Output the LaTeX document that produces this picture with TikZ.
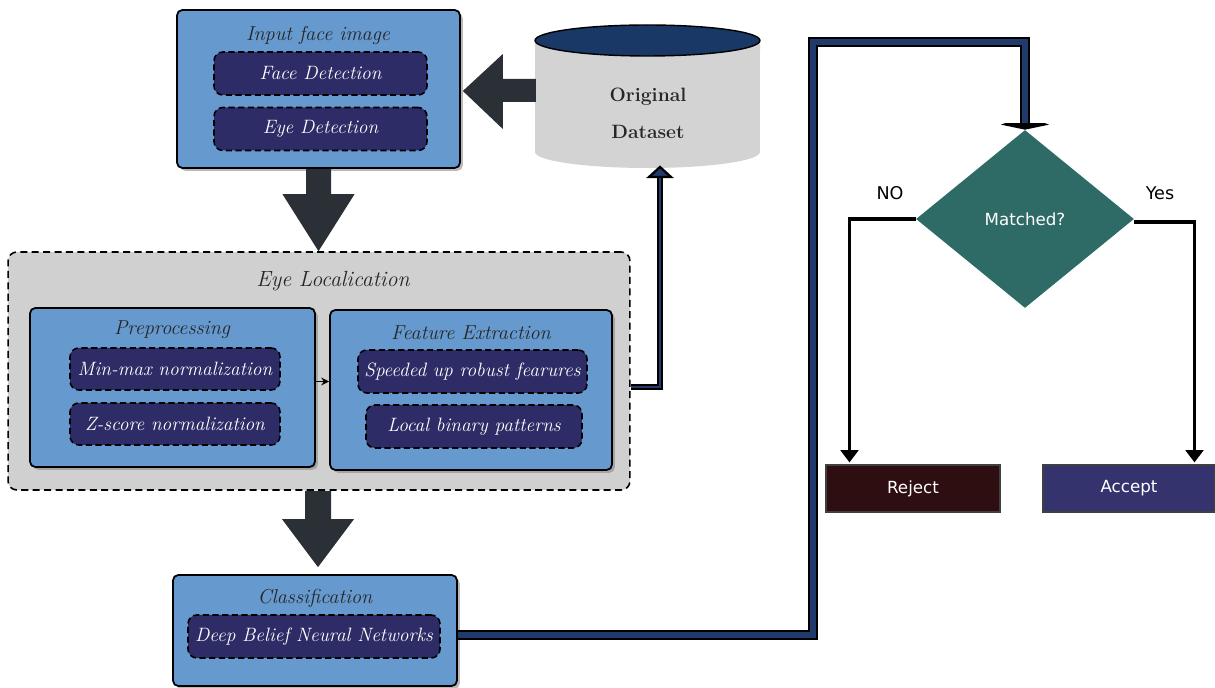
\documentclass[tikz,border=0pt]{standalone}
\usepackage{fontspec}
\newfontfamily\sansf{DejaVu Sans}
\usetikzlibrary{shapes.geometric,arrows.meta,calc,shadows}
\definecolor{lblue}{RGB}{102,153,206}
\definecolor{navybox}{RGB}{46,44,102}
\definecolor{elgray}{RGB}{208,208,208}
\definecolor{cylgray}{RGB}{211,211,211}
\definecolor{cyltop}{RGB}{26,56,102}
\definecolor{fatc}{RGB}{43,47,54}
\definecolor{connblue}{RGB}{31,58,107}
\definecolor{teal}{RGB}{47,107,102}
\definecolor{rejc}{RGB}{46,14,16}
\definecolor{accc}{RGB}{52,51,110}
\begin{document}
\begin{tikzpicture}[x=0.02cm,y=0.02cm,
  outerbox/.style={draw=black, line width=1pt, fill=lblue, rounded corners=3pt,
    drop shadow={shadow xshift=1.6pt, shadow yshift=-1.6pt, opacity=0.55}, inner sep=0pt},
  innerbox/.style={draw=black, dash pattern=on 3.5pt off 2pt, line width=0.9pt, fill=navybox, rounded corners=5pt,
    text=white, font=\fontsize{11}{13}\selectfont\itshape, inner sep=0pt, minimum height=0.86cm},
  ttl/.style={font=\fontsize{11.5}{13}\selectfont\itshape, text=black!85, inner sep=0pt},
  fat/.style={fill=fatc},
  decision/.style={diamond, fill=teal, inner sep=0pt, minimum width=4.36cm, minimum height=3.56cm,
    text=white, font=\sansf\fontsize{9.5}{11}\selectfont},
  result/.style={draw=black!75, line width=0.6pt, text=white, inner sep=0pt,
    minimum height=0.94cm, font=\sansf\fontsize{9.5}{11}\selectfont},
  lbl/.style={font=\sansf\fontsize{10}{12}\selectfont, inner sep=0pt},
  blueconn/.style={draw=black, line width=1.1pt, double=connblue, double distance=3pt, line join=miter},
  thinconn/.style={draw=black, line width=1.3pt, double=connblue, double distance=0.9pt, line join=miter},
  branch/.style={draw=black, line width=2pt, -{Triangle[width=10pt,length=7pt]}}
]
\useasboundingbox (0,0) rectangle (1215,-688);

% Input face image
\node[outerbox, minimum width=5.66cm, minimum height=3.16cm] (in) at (318.5,-89) {};
\node[ttl] (inT) at (318,-35) {Input face image};
\node[innerbox, minimum width=4.26cm] (fd) at (320.5,-73.5) {Face Detection};
\node[innerbox, minimum width=4.26cm] (ed) at (320.5,-129) {Eye Detection};

% Cylinder (Original Dataset)
\fill[cylgray] (535,-40) -- (535,-152)
  arc[start angle=180, end angle=360, x radius=2.25cm, y radius=0.32cm] -- (760,-40) -- cycle;
\draw[fill=cyltop, line width=0.8pt] (647.5,-40.5) ellipse [x radius=2.25cm, y radius=0.31cm];
\node[align=center, font=\bfseries\fontsize{11}{21}\selectfont, text=black!85] (ds) at (648,-113) {Original\\Dataset};
\coordinate (cylb) at (660,-167);

% Eye Localization
\node[draw=black, dash pattern=on 4pt off 2.5pt, line width=0.9pt, fill=elgray, rounded corners=5pt, inner sep=0pt,
  minimum width=12.44cm, minimum height=4.76cm] (el) at (319,-371) {};
\node[ttl, font=\fontsize{12.5}{14}\selectfont\itshape] (elT) at (333,-281) {Eye Localication};

\node[outerbox, minimum width=5.7cm, minimum height=3.18cm] (pp) at (172.5,-387.5) {};
\node[ttl] (ppT) at (172,-330) {Preprocessing};
\node[innerbox, minimum width=4.2cm, minimum height=0.84cm] (mm) at (175,-369) {Min-max normalization};
\node[innerbox, minimum width=4.2cm, minimum height=0.84cm] (zs) at (175,-424) {Z-score normalization};

\node[outerbox, minimum width=5.64cm, minimum height=3.2cm] (fe) at (471,-390) {};
\node[ttl] (feT) at (471,-333) {Feature Extraction};
\node[innerbox, minimum width=4.58cm] (su) at (472.5,-371.5) {Speeded up robust fearures};
\node[innerbox, minimum width=4.32cm] (lb) at (474,-426.5) {Local binary patterns};

\draw[line width=0.8pt, -{Stealth[length=4.5pt,width=4.5pt]}] ($(pp.east)+(0,6)$) -- ($(pp.east -| fe.west)+(0,6)$);

% Classification
\node[outerbox, minimum width=5.68cm, minimum height=2.22cm] (cl) at (315,-630.5) {};
\node[ttl] (clT) at (315,-598) {Classification};
\node[innerbox, minimum width=5.04cm] (dbn) at (314,-636.5) {Deep Belief Neural Networks};

% Fat arrows
\fill[fat] ($(in.east)+(2,-2)$) -- ++(40,37) -- ++(0,-25) -- ++(33,0) -- ++(0,-23)
  -- ++(-33,0) -- ++(0,-27) -- cycle;
\coordinate (a1s) at (in.south);
\coordinate (a1e) at (in.south |- el.north);
\fill[fat] ($(a1s)+(-12.5,0)$) -- ($(a1s)+(12.5,0)$) -- ($(a1e)+(12.5,57)$) -- ($(a1e)+(36,57)$)
  -- (a1e) -- ($(a1e)+(-36,57)$) -- ($(a1e)+(-12.5,57)$) -- cycle;
\coordinate (a2s) at ($(el.south)+(-1,0)$);
\coordinate (a2e) at ($(a2s |- cl.north)+(0,7)$);
\fill[fat] ($(a2s)+(-13,0)$) -- ($(a2s)+(13,0)$) -- ($(a2e)+(13,48)$) -- ($(a2e)+(36,48)$)
  -- (a2e) -- ($(a2e)+(-36,48)$) -- ($(a2e)+(-13,48)$) -- cycle;

% Connector from Eye Localization up to dataset
\coordinate (elr) at ($(el.east)+(0,-16)$);
\draw[thinconn] (elr) -| ($(cylb)+(0,-10)$);
\filldraw[fill=connblue, draw=black, line width=1.3pt, line join=miter] (cylb) -- ++(-11,-10) -- ++(22,0) -- cycle;

% Decision part
\node[decision] (dia) at (1025,-219) {Matched?};
\node[result, fill=rejc, minimum width=3.48cm] (rej) at (913,-488.5) {Reject};
\node[result, fill=accc, minimum width=3.44cm] (acc) at (1129,-488.5) {Accept};
\node[lbl] (no) at (890,-193) {NO};
\node[lbl] (yes) at (1160,-193) {Yes};

\coordinate (rn) at ($(rej.north west)+(24,2)$);
\coordinate (an) at ($(acc.north west)+(152,2)$);
\draw[branch] (dia.west) -| (rn);
\draw[branch] ($(dia.east)+(0,-3)$) -| (an);

% Blue connector from Classification to decision
\coordinate (bc1) at (813,-42);
\coordinate (dtop) at ($(dia.north)+(0,5)$);
\draw[blueconn] (cl.east |- 0,-635) -| (bc1) -| (dtop);
\fill[black] (dia.north) -- ++(-24,5) -- ++(4,1.5) -- ++(40,0) -- ++(4,-1.5) -- cycle;
\end{tikzpicture}
\end{document}
